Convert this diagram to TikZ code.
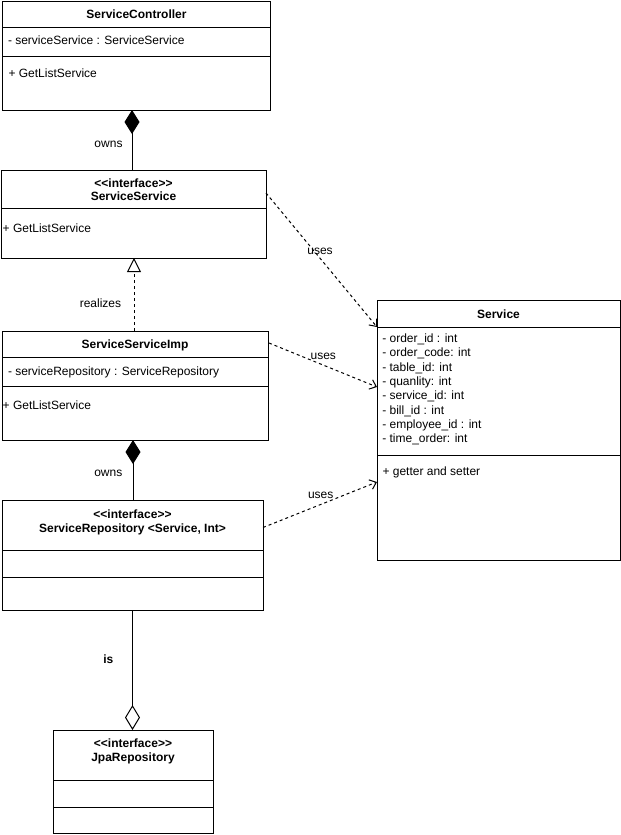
\documentclass[tikz,border=0pt]{standalone}
\usepackage{fontspec}
\setmainfont{Liberation Sans}
\usetikzlibrary{arrows.meta,calc}
\newcommand{\stereo}{<\kern0pt<interface>\kern0pt>}
\begin{document}
\begin{tikzpicture}[x=1bp,y=-1bp,
 cls/.style={draw=black, line width=1bp, inner sep=0pt, outer sep=0pt, anchor=north west},
 divl/.style={line width=1bp},
 txt/.style={inner sep=0pt, outer sep=0pt, font=\fontsize{12bp}{14bp}\selectfont},
 btxt/.style={inner sep=0pt, outer sep=0pt, font=\fontsize{12bp}{14bp}\selectfont\bfseries},
 usesline/.style={line width=1bp, dash pattern=on 3bp off 3bp, -{Straight Barb[length=6bp,width=10bp]}},
 realize/.style={line width=1bp, dash pattern=on 3bp off 3bp, -{Triangle[open,length=14bp,width=14bp,fill=white]}},
 compo/.style={line width=1bp, -{Diamond[length=24bp,width=15bp,fill=black]}},
 aggr/.style={line width=1bp, -{Diamond[open,length=25bp,width=15bp,fill=white]}},
]
\useasboundingbox (0,0) rectangle (621,835);

% class boxes
\node[cls, minimum width=268bp, minimum height=109bp] (sc) at (2,1) {};
\node[cls, minimum width=265bp, minimum height=88bp] (ssv) at (1,170) {};
\node[cls, minimum width=266bp, minimum height=109bp] (ssi) at (2,331) {};
\node[cls, minimum width=261bp, minimum height=110bp] (srp) at (2,500) {};
\node[cls, minimum width=160bp, minimum height=103bp] (jpa) at (53,730) {};
\node[cls, minimum width=243bp, minimum height=260bp] (svc) at (377,300) {};

% dividers
\draw[divl] ($(sc.north west)+(0,26)$) -- ($(sc.north east)+(0,26)$);
\draw[divl] ($(sc.north west)+(0,55)$) -- ($(sc.north east)+(0,55)$);
\draw[divl] ($(ssv.north west)+(0,38)$) -- ($(ssv.north east)+(0,38)$);
\draw[divl] ($(ssi.north west)+(0,26)$) -- ($(ssi.north east)+(0,26)$);
\draw[divl] ($(ssi.north west)+(0,55)$) -- ($(ssi.north east)+(0,55)$);
\draw[divl] ($(srp.north west)+(0,50)$) -- ($(srp.north east)+(0,50)$);
\draw[divl] ($(srp.north west)+(0,77)$) -- ($(srp.north east)+(0,77)$);
\draw[divl] ($(jpa.north west)+(0,50)$) -- ($(jpa.north east)+(0,50)$);
\draw[divl] ($(jpa.north west)+(0,77)$) -- ($(jpa.north east)+(0,77)$);
\draw[divl] ($(svc.north west)+(0,27)$) -- ($(svc.north east)+(0,27)$);
\draw[divl] ($(svc.north west)+(0,155)$) -- ($(svc.north east)+(0,155)$);

% ServiceController
\node[btxt, anchor=base] (sct) at (136.5,18.3) {ServiceController};
\node[txt, anchor=base west] (sca) at (8,44.3) {- serviceService : ServiceService};
\node[txt, anchor=base west] (scm) at (8.5,77.5) {+ GetListService};

% ServiceService
\node[btxt, anchor=base] (ssvs) at (133.5,187) {\stereo};
\node[btxt, anchor=base] (ssvt) at (133.5,200.6) {ServiceService};
\node[txt, anchor=base west] (ssvm) at (2.7,232) {+ GetListService};

% ServiceServiceImp
\node[btxt, anchor=base] (ssit) at (135,348.3) {ServiceServiceImp};
\node[txt, anchor=base west] (ssia) at (8,375) {- serviceRepository : ServiceRepository};
\node[txt, anchor=base west] (ssim) at (2.7,409.3) {+ GetListService};

% ServiceRepository
\node[btxt, anchor=base] (srps) at (132.5,518) {\stereo};
\node[btxt, anchor=base] (srpt) at (132.5,532) {ServiceRepository <Service, Int>};

% JpaRepository
\node[btxt, anchor=base] (jpas) at (133,747.6) {\stereo};
\node[btxt, anchor=base] (jpat) at (133,761.3) {JpaRepository};

% Service
\node[btxt, anchor=base] (svct) at (498.5,318) {Service};
\node[txt, anchor=base west] (a1) at (382.3,342.5) {- order\_id : int};
\node[txt, anchor=base west] (a2) at (382.3,356.8) {- order\_code: int};
\node[txt, anchor=base west] (a3) at (382.3,371.1) {- table\_id: int};
\node[txt, anchor=base west] (a4) at (382.3,385.4) {- quanlity: int};
\node[txt, anchor=base west] (a5) at (382.3,399.7) {- service\_id: int};
\node[txt, anchor=base west] (a6) at (382.3,414.0) {- bill\_id : int};
\node[txt, anchor=base west] (a7) at (382.3,428.3) {- employee\_id : int};
\node[txt, anchor=base west] (a8) at (382.3,442.6) {- time\_order: int};
\node[txt, anchor=base west] (svcm) at (382.5,475) {+ getter and setter};

% connectors
\draw[compo] ($(ssv.north west)+(131,0)$) -- ($(sc.south west)+(130,0)$);
\draw[realize] ($(ssi.north west)+(132,0)$) -- ($(ssv.south west)+(133,0)$);
\draw[compo] ($(srp.north west)+(131,0)$) -- ($(ssi.south west)+(131,0)$);
\draw[aggr] ($(srp.south west)+(130.5,0)$) -- ($(jpa.north west)+(79.5,0)$);
\draw[usesline] ($(ssv.north east)+(0,23)$) -- ($(svc.north west)+(0,27)$);
\draw[usesline] ($(ssi.north east)+(1,12)$) -- ($(svc.north west)+(0,87)$);
\draw[usesline] ($(srp.north east)+(0,27.5)$) -- ($(svc.north west)+(0,182)$);

% connector labels
\node[txt, anchor=base] (l1) at (108.5,147.4) {owns};
\node[txt, anchor=base] (l2) at (100.5,307) {realizes};
\node[txt, anchor=base] (l3) at (108.3,476.4) {owns};
\node[btxt, anchor=base] (l4) at (108.3,663.3) {is};
\node[txt, anchor=base] (l5) at (320,254) {uses};
\node[txt, anchor=base] (l6) at (323.3,359) {uses};
\node[txt, anchor=base] (l7) at (320.7,498) {uses};
\end{tikzpicture}
\end{document}
